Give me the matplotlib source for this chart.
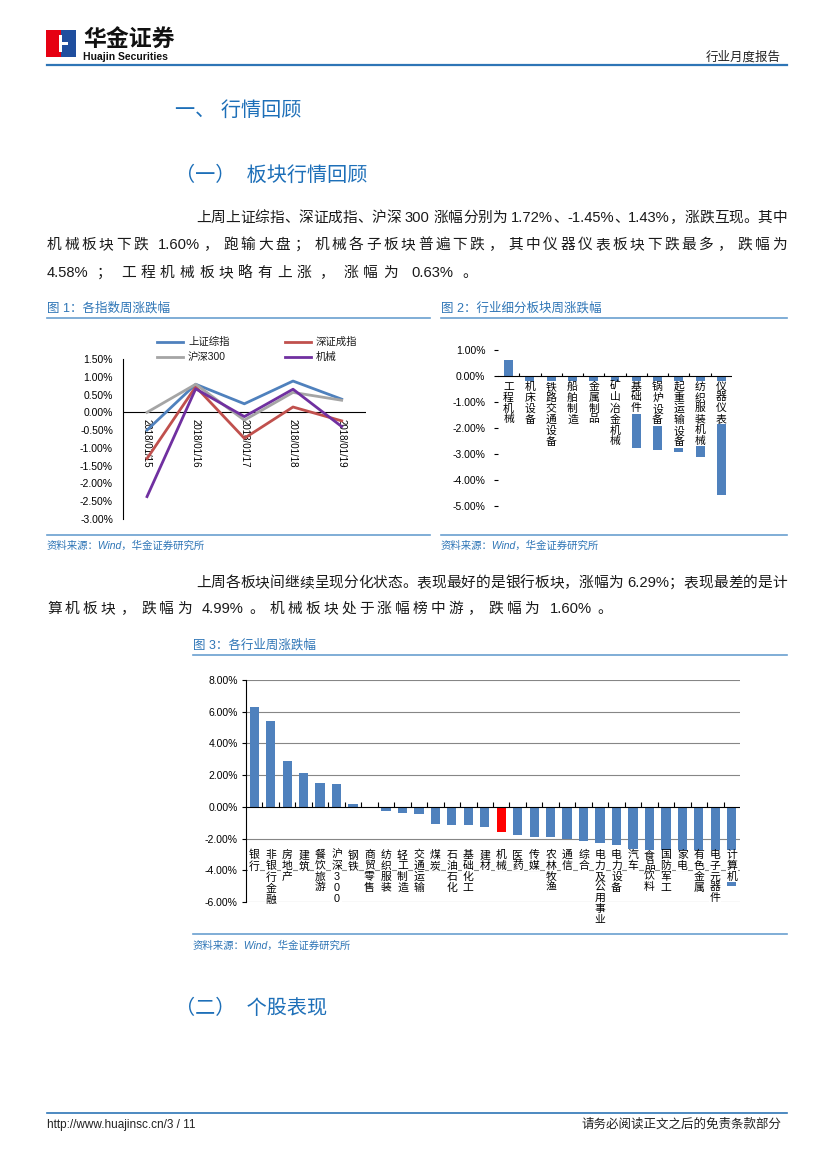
import re
import matplotlib
matplotlib.use('Agg')
import matplotlib.pyplot as plt
import numpy as np
from matplotlib.patches import Rectangle
from matplotlib.lines import Line2D

plt.rcParams['font.family'] = ['Liberation Sans', 'Noto Sans CJK SC', 'DejaVu Sans']
plt.rcParams['axes.unicode_minus'] = False

# ---------------- data ----------------
dates = ['2018/01/15', '2018/01/16', '2018/01/17', '2018/01/18', '2018/01/19']
sh_comp = [-0.50, 0.79, 0.24, 0.88, 0.37]
sz_comp = [-1.30, 0.72, -0.73, 0.15, -0.24]
hs300 = [0.00, 0.79, -0.22, 0.56, 0.34]
machinery = [-2.37, 0.66, -0.12, 0.65, -0.40]
line_names = ['上证综指', '深证成指', '沪深300', '机械']

sub_names = ['工程机械', '机床设备', '铁路交通设备', '船舶制造', '金属制品', '矿山冶金机械',
             '基础件', '锅炉设备', '起重运输设备', '纺织服装机械', '仪器仪表']
sub_values = [0.63, -0.90, -1.20, -1.45, -1.75, -2.40, -2.76, -2.85, -2.94, -3.11, -4.58]

ind_names = ['银行', '非银行金融', '房地产', '建筑', '餐饮旅游', '沪深300', '钢铁', '商贸零售',
             '纺织服装', '轻工制造', '交通运输', '煤炭', '石油石化', '基础化工', '建材', '机械',
             '医药', '传媒', '农林牧渔', '通信', '综合', '电力及公用事业', '电力设备', '汽车',
             '食品饮料', '国防军工', '家电', '有色金属', '电子元器件', '计算机']
ind_values = [6.29, 5.40, 2.87, 2.14, 1.50, 1.43, 0.18, -0.10, -0.27, -0.38, -0.44, -1.05,
              -1.12, -1.15, -1.26, -1.60, -1.75, -1.89, -1.92, -2.00, -2.17, -2.27, -2.40,
              -2.63, -2.95, -3.30, -3.50, -3.75, -4.10, -4.99]
highlight = '机械'

# ---------------- styles ----------------
W, H = 827, 1169
BLUE_BAR = '#4F81BD'
HEAD_BLUE = '#1D6FB8'
TITLE_BLUE = '#2E75B6'
RULE_BLUE = '#6A9FD0'
TEXT = '#1a1a1a'

fig = plt.figure(figsize=(W / 100, H / 100), dpi=100)


def fx(x):
    return x / W


def fy(y):
    return 1 - y / H


def rect(x0, y0, x1, y1):
    return [fx(x0), fy(y1), (x1 - x0) / W, (y1 - y0) / H]


def txt(x, y, s, **kw):
    return fig.text(fx(x), fy(y), s, **kw)


def hline(x0, x1, y, color=RULE_BLUE, lw=1.2):
    fig.add_artist(Line2D([fx(x0), fx(x1)], [fy(y), fy(y)], transform=fig.transFigure,
                          color=color, lw=lw))


renderer = fig.canvas.get_renderer()
PUNCT = '，；。、：'


def justified(x0, x1, y, s, size, color=TEXT):
    toks = re.findall(r'[A-Za-z0-9.%\-/]+|\s|.', s)
    widths = []
    for t in toks:
        if t.isspace():
            widths.append(0.28 * size * 100 / 72)
        else:
            o = fig.text(0, 0, t, fontsize=size)
            widths.append(o.get_window_extent(renderer).width)
            o.remove()
    total = sum(widths)
    weights = []
    for i in range(len(toks) - 1):
        a, b = toks[i], toks[i + 1]
        weights.append(1.8 if (a in PUNCT or b in PUNCT) else 1.0)
    wsum = sum(weights) if weights else 1.0
    extra = x1 - x0 - total
    x = x0
    for i, (t, w) in enumerate(zip(toks, widths)):
        if not t.isspace():
            txt(x, y, t, fontsize=size, color=color, ha='left', va='baseline')
        x += w
        if i < len(weights):
            x += extra * weights[i] / wsum


# ---------------- header ----------------
fig.add_artist(Rectangle((fx(46), fy(57)), 15 / W, 27 / H, transform=fig.transFigure,
                         facecolor='#E60012', edgecolor='none'))
fig.add_artist(Rectangle((fx(61), fy(57)), 15 / W, 27 / H, transform=fig.transFigure,
                         facecolor='#1F4E9E', edgecolor='none'))
fig.add_artist(Rectangle((fx(59), fy(52)), 3 / W, 17 / H, transform=fig.transFigure,
                         facecolor='white', edgecolor='none'))
fig.add_artist(Rectangle((fx(62), fy(45)), 6 / W, 3 / H, transform=fig.transFigure,
                         facecolor='white', edgecolor='none'))
txt(83, 40, '华金证券', fontsize=16.5, fontweight='bold', color='#111111', ha='left', va='center')
txt(83, 57, 'Huajin Securities', fontsize=7.5, fontweight='bold', color='#111111',
    ha='left', va='center')
txt(781, 57, '行业月度报告', fontsize=9, color='#222222', ha='right', va='center')
hline(47, 787, 65, color='#2E75B6', lw=1.6)

# ---------------- headings & paragraphs ----------------
txt(175, 110, '一、 行情回顾', fontsize=14.5, color=HEAD_BLUE, ha='left', va='center')
txt(175, 175, '（一）  板块行情回顾', fontsize=14.5, color=HEAD_BLUE, ha='left', va='center')

BODY = 10.6
justified(196, 787, 222, '上周上证综指、深证成指、沪深 300 涨幅分别为 1.72%、-1.45%、1.43%，涨跌互现。其中', BODY)
justified(47, 787, 249, '机械板块下跌 1.60%，跑输大盘；机械各子板块普遍下跌，其中仪器仪表板块下跌最多，跌幅为', BODY)
justified(47, 477, 277, '4.58%；工程机械板块略有上涨，涨幅为 0.63%。', BODY)

justified(196, 787, 587, '上周各板块间继续呈现分化状态。表现最好的是银行板块，涨幅为 6.29%；表现最差的是计', BODY)
justified(47, 612, 613, '算机板块，跌幅为 4.99%。机械板块处于涨幅榜中游，跌幅为 1.60%。', BODY)

txt(175, 1008, '（二）  个股表现', fontsize=14.5, color=HEAD_BLUE, ha='left', va='center')

# figure titles / sources
TSZ = 9
txt(47, 308, '图 1：各指数周涨跌幅', fontsize=TSZ, color=TITLE_BLUE, ha='left', va='center')
hline(47, 430, 318)
txt(441, 308, '图 2：行业细分板块周涨跌幅', fontsize=TSZ, color=TITLE_BLUE, ha='left', va='center')
hline(441, 787, 318)
hline(47, 430, 535)
hline(441, 787, 535)
txt(47, 546, '资料来源：Wind，华金证券研究所', fontsize=7.5, color=TITLE_BLUE, style='italic',
    ha='left', va='center')
txt(441, 546, '资料来源：Wind，华金证券研究所', fontsize=7.5, color=TITLE_BLUE, style='italic',
    ha='left', va='center')

txt(193, 645, '图 3：各行业周涨跌幅', fontsize=TSZ, color=TITLE_BLUE, ha='left', va='center')
hline(193, 787, 655)
hline(193, 787, 934)
txt(193, 946, '资料来源：Wind，华金证券研究所', fontsize=7.5, color=TITLE_BLUE, style='italic',
    ha='left', va='center')

# footer
hline(47, 787, 1113, color='#2E75B6', lw=1.2)
txt(47, 1125, 'http://www.huajinsc.cn/3 / 11', fontsize=8.5, color='#222222', ha='left', va='center')
txt(781, 1125, '请务必阅读正文之后的免责条款部分', fontsize=9, color='#222222', ha='right', va='center')


def pct(v):
    return '%.2f%%' % v


# ---------------- chart 1 ----------------
ax1 = fig.add_axes(rect(122.7, 359, 366, 519))
x = np.arange(len(dates))
series = [sh_comp, sz_comp, hs300, machinery]
colors = ['#4F81BD', '#C0504D', '#A5A5A5', '#7030A0']
order = [2, 0, 1, 3]
for k in order:
    ax1.plot(x, series[k], color=colors[k], lw=2.0, zorder=3 + k * 0.1)
ax1.set_xlim(-0.5, len(dates) - 0.5)
ax1.set_ylim(-3.0, 1.5)
yt = np.arange(-3.0, 1.51, 0.5)
ax1.set_yticks(yt)
ax1.set_yticklabels([pct(v) for v in yt], fontsize=7.5)
ax1.tick_params(axis='y', length=0, pad=7)
ax1.set_xticks([])
for s in ['top', 'right', 'bottom']:
    ax1.spines[s].set_visible(False)
ax1.spines['left'].set_linewidth(0.8)
ax1.axhline(0, color='black', lw=0.8, zorder=2)
for i, d in enumerate(dates):
    ax1.text(i, -0.18, d, rotation=270, ha='center', va='top', fontsize=7, zorder=2)
ax1.patch.set_alpha(0)

# legend (manual, two columns)
leg_pos = [(157, 342), (285, 342), (157, 357), (285, 357)]
for (lx, ly), name, c in zip(leg_pos, line_names, colors):
    fig.add_artist(Line2D([fx(lx), fx(lx + 26)], [fy(ly), fy(ly)], transform=fig.transFigure,
                          color=c, lw=2.0))
    txt(lx + 31, ly, name, fontsize=7.5, color=TEXT, ha='left', va='center')

# ---------------- chart 2 ----------------
ax2 = fig.add_axes(rect(498, 350, 732, 505.7))
x2 = np.arange(len(sub_names))
ax2.bar(x2, sub_values, width=0.42, color=BLUE_BAR, zorder=2)
ax2.set_xlim(-0.5, len(sub_names) - 0.5)
ax2.set_ylim(-5, 1)
yt2 = np.arange(-5, 1.01, 1)
ax2.set_yticks(yt2)
ax2.set_yticklabels([pct(v) for v in yt2], fontsize=7.5)
ax2.tick_params(axis='y', length=3, width=0.8, direction='out', pad=6)
ax2.set_xticks([])
for s in ax2.spines.values():
    s.set_visible(False)
ax2.axhline(0, color='black', lw=0.8, zorder=3)
ax2.vlines(x2[:-1] + 0.5, 0, 0.13, color='black', lw=0.8, zorder=3)
for i, n in enumerate(sub_names):
    ax2.text(i, -0.22, '\n'.join(n), ha='center', va='top', fontsize=7.8, linespacing=1.1,
             zorder=4, bbox=dict(facecolor='white', edgecolor='none', pad=0.3))
ax2.patch.set_alpha(0)

# ---------------- chart 3 ----------------
ax3 = fig.add_axes(rect(246, 680, 740, 902))
x3 = np.arange(len(ind_names))
bar_colors = ['#FF0000' if n == highlight else BLUE_BAR for n in ind_names]
ax3.bar(x3, ind_values, width=0.56, color=bar_colors, zorder=2)
ax3.set_xlim(-0.5, len(ind_names) - 0.5)
ax3.set_ylim(-6, 8)
yt3 = np.arange(-6, 8.01, 2)
ax3.set_yticks(yt3)
ax3.set_yticklabels([pct(v) for v in yt3], fontsize=7.5)
ax3.tick_params(axis='y', length=3, width=0.8, direction='out', pad=3)
ax3.set_xticks([])
for s in ['top', 'right', 'bottom']:
    ax3.spines[s].set_visible(False)
ax3.spines['left'].set_linewidth(0.8)
for v in yt3:
    if v != 0:
        ax3.axhline(v, color='#868686', lw=0.8, zorder=1)
ax3.axhline(0, color='black', lw=0.8, zorder=3)
ax3.vlines(x3[:-1] + 0.5, 0, 0.3, color='black', lw=0.8, zorder=3)
for i, n in enumerate(ind_names):
    ax3.text(i, -2.72, '\n'.join(n), ha='center', va='top', fontsize=7.8, linespacing=1.1,
             zorder=4, bbox=dict(facecolor='white', edgecolor='none', pad=0.3))
ax3.patch.set_alpha(0)

fig.savefig('out.png', dpi=100)
